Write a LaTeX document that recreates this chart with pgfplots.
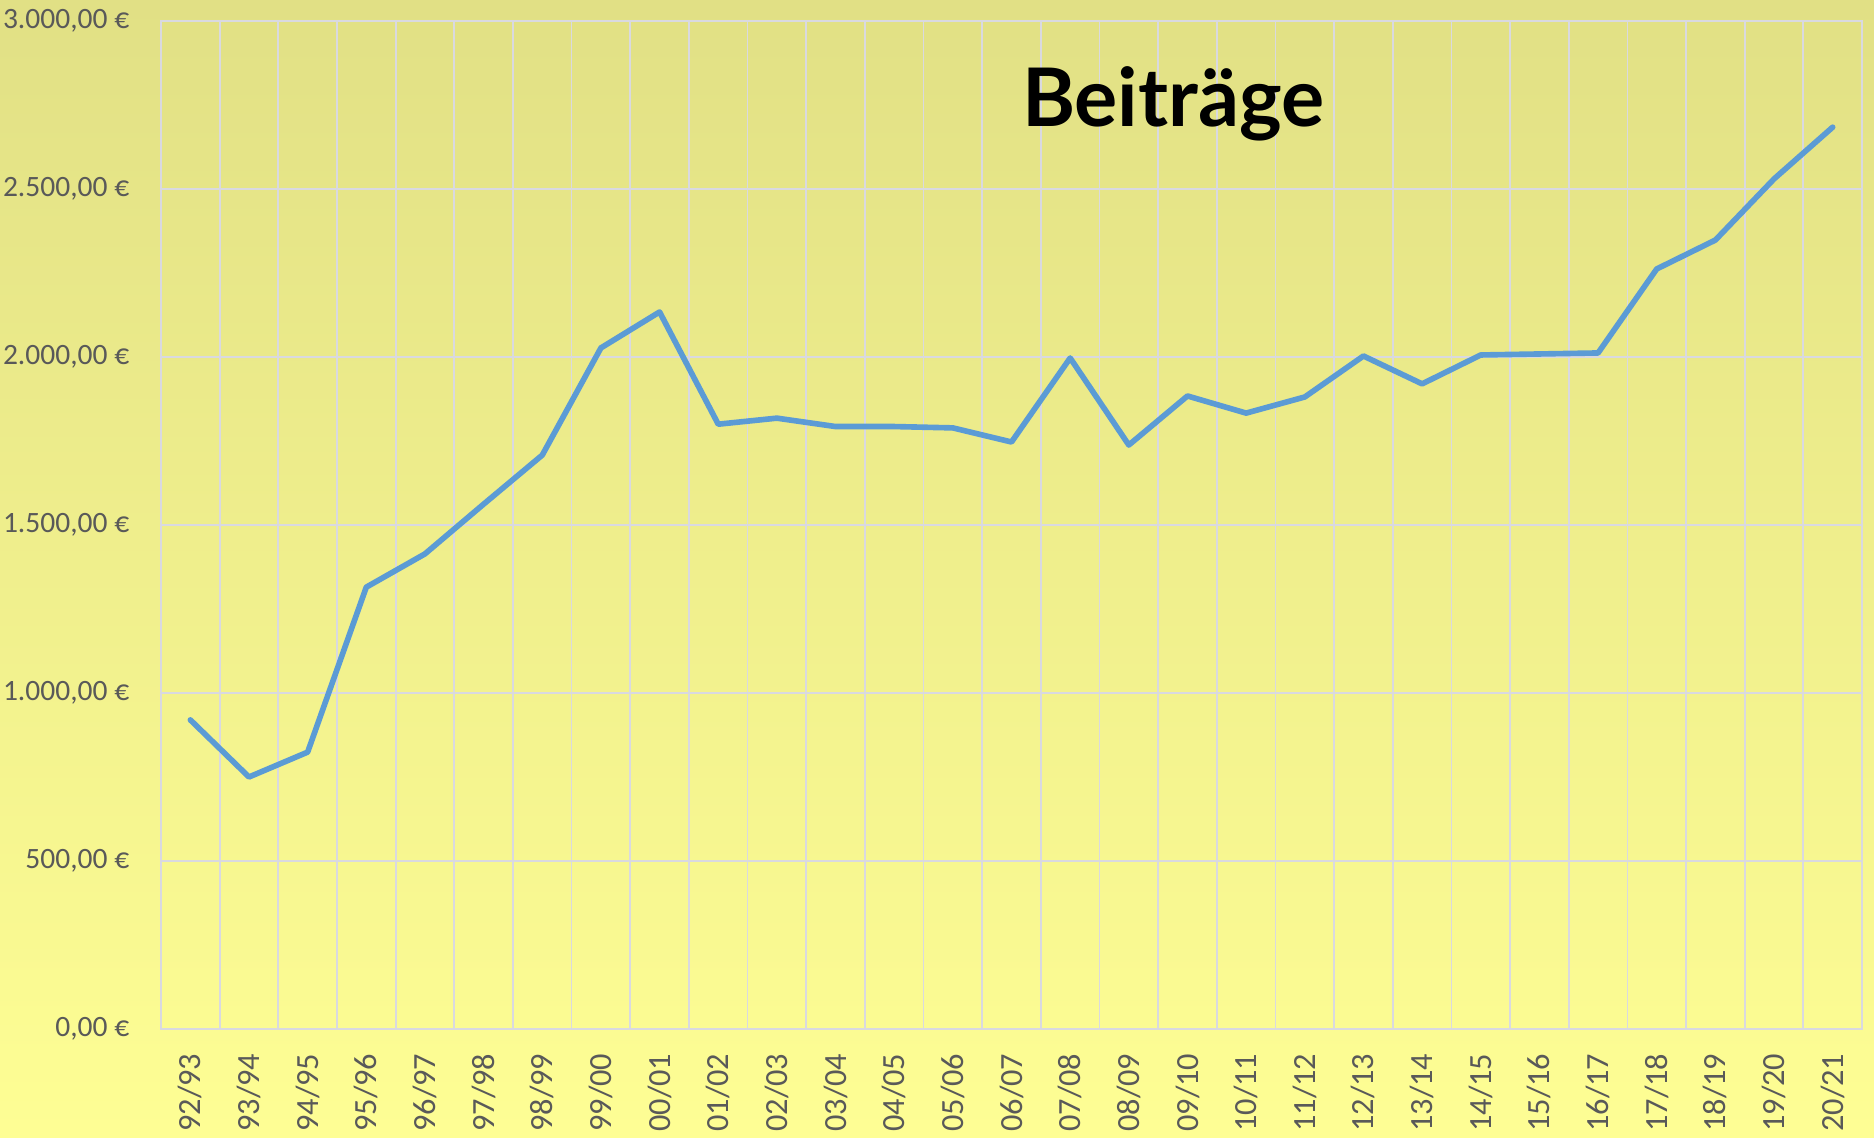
\documentclass[border=0pt]{standalone}
\usepackage{fontspec}
\setmainfont{Carlito}
\newfontfamily\titlefont{Lato}
\usepackage{pgfplots}
\pgfplotsset{compat=1.18}
\definecolor{linieblau}{RGB}{91,155,213}
\definecolor{gitter}{RGB}{217,217,224}
\definecolor{schrift}{RGB}{89,89,89}
\definecolor{oben}{RGB}{225,224,133}
\definecolor{unten}{RGB}{254,254,148}

% Beitraege je Jahrgang (92/93 ... 20/21)
\pgfplotstableread{
idx wert
0  920
1  750
2  824
3  1315
4  1414
5  1562
6  1708
7  2027
8  2134
9  1800
10 1818
11 1793
12 1793
13 1789
14 1747
15 1997
16 1738
17 1884
18 1833
19 1881
20 2003
21 1920
22 2006
23 2009
24 2012
25 2262
26 2348
27 2530
28 2684
}\beitraege

\begin{document}
\begin{tikzpicture}
\shade[top color=oben, bottom color=unten] (-1.61,-1.09) rectangle (17.13,10.29);
\begin{axis}[
    at={(0,0)}, anchor=south west,
    scale only axis, width=17.01cm, height=10.08cm,
    xmin=-0.5, xmax=28.5, ymin=0, ymax=3000,
    xtick={0,...,28},
    xticklabels={92/93,93/94,94/95,95/96,96/97,97/98,98/99,99/00,00/01,01/02,02/03,03/04,04/05,05/06,06/07,07/08,08/09,09/10,10/11,11/12,12/13,13/14,14/15,15/16,16/17,17/18,18/19,19/20,20/21},
    minor xtick={-0.5,0.5,...,28.5},
    ytick={0,500,1000,1500,2000,2500,3000},
    yticklabels={{0,00 €},{500,00 €},{1.000,00 €},{1.500,00 €},{2.000,00 €},{2.500,00 €},{3.000,00 €}},
    xmajorgrids=false, xminorgrids=true, ymajorgrids=true,
    grid style={gitter, line width=0.5pt},
    minor grid style={gitter, line width=0.5pt},
    axis line style={gitter, line width=0.5pt},
    major tick length=0pt, minor tick length=0pt,
    tick style={draw=none},
    xticklabel style={rotate=90, anchor=east, font=\fontsize{9.2}{11}\selectfont, text=schrift},
    yticklabel style={font=\fontsize{8.4}{10}\selectfont, text=schrift},
    xticklabel shift=3.5pt, yticklabel shift=5.5pt,
    clip=false,
]
\addplot[linieblau, line width=1.6pt, line join=round, line cap=round, mark=none]
    table[x=idx, y=wert] {\beitraege};
\node at (rel axis cs:0.595,0.918) {\titlefont\bfseries\fontsize{23}{26}\selectfont Beiträge};
\end{axis}
\pgfresetboundingbox
\useasboundingbox (-1.61,-1.09) rectangle (17.13,10.29);
\end{tikzpicture}
\end{document}
